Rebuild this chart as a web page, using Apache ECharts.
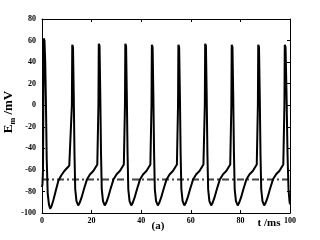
<!DOCTYPE html>
<html><head><meta charset="utf-8">
<script src="https://cdn.jsdelivr.net/npm/echarts@6/dist/echarts.min.js"></script>
<style>html,body{margin:0;padding:0;background:#fff}#c{width:320px;height:240px}</style>
</head><body><div id="c"></div>
<script>
// time (ms) and membrane potential (mV)
const timeMs = [
  0, 0.2, 0.4, 0.55, 0.7, 1.0, 1.3, 1.6, 1.9, 2.3, 2.8, 3.3, 3.8, 4.6, 5.6, 6.6, 7.8, 9.0, 10.2, 11.0, 11.7,
  11.9, 12.05, 12.2, 12.5, 12.8, 13.1, 13.4, 13.9, 14.6, 15.1, 15.9, 16.9, 18.1, 19.4, 20.7, 21.5, 22.3,
  22.6, 22.75, 22.9, 23.2, 23.5, 23.8, 24.1, 24.6, 25.3, 25.8, 26.6, 27.6, 28.8, 30.1, 31.4, 32.2, 33.0,
  33.3, 33.45, 33.6, 33.9, 34.2, 34.5, 34.8, 35.3, 36.0, 36.5, 37.3, 38.3, 39.5, 40.8, 42.1, 42.9, 43.7,
  44.0, 44.15, 44.3, 44.6, 44.9, 45.2, 45.5, 46.0, 46.7, 47.2, 48.0, 49.0, 50.2, 51.5, 52.8, 53.6, 54.4,
  54.7, 54.85, 55.0, 55.3, 55.6, 55.9, 56.2, 56.7, 57.4, 57.9, 58.7, 59.7, 60.9, 62.2, 63.5, 64.3, 65.1,
  65.5, 65.65, 65.8, 66.1, 66.4, 66.7, 67.0, 67.5, 68.2, 68.7, 69.5, 70.5, 71.7, 73.0, 74.3, 75.1, 75.9,
  76.2, 76.35, 76.5, 76.8, 77.1, 77.4, 77.7, 78.2, 78.9, 79.4, 80.2, 81.2, 82.4, 83.7, 85.0, 85.8, 86.6,
  86.9, 87.05, 87.2, 87.5, 87.8, 88.1, 88.4, 88.9, 89.6, 90.1, 90.9, 91.9, 93.1, 94.4, 95.7, 96.5, 97.3,
  97.6, 97.75, 97.9, 98.2, 98.6, 99.0, 99.4, 99.8, 100.0
];
const voltage = [
  -76, -73, -60, 0, 62, 60, 40, 0, -50, -82, -92, -96, -94, -88, -79, -70, -65, -61, -58, -56, -55,
  -55, 0, 56, 54, 10, -45, -78, -89, -93, -91, -86, -78, -69, -64, -61, -58, -55,
  -55, 0, 57, 55, 10, -45, -78, -89, -93, -91, -86, -78, -69, -64, -61, -58, -55,
  -55, 0, 57, 55, 10, -45, -78, -89, -93, -91, -86, -78, -69, -64, -61, -58, -55,
  -55, 0, 56, 54, 10, -45, -78, -89, -93, -91, -86, -78, -69, -64, -61, -58, -55,
  -55, 0, 56, 54, 10, -45, -78, -89, -93, -91, -86, -78, -69, -64, -61, -58, -55,
  -55, 0, 57, 55, 10, -45, -78, -89, -93, -91, -86, -78, -69, -64, -61, -58, -55,
  -55, 0, 56, 54, 10, -45, -78, -89, -93, -91, -86, -78, -69, -64, -61, -58, -55,
  -55, 0, 56, 54, 10, -45, -78, -89, -93, -91, -86, -78, -69, -64, -61, -58, -55,
  -55, 0, 56, 54, 10, -45, -78, -89, -92
];
const thresholdTime = [0, 100];
const thresholdLevel = [-69, -69];
const xTicks = [0, 20, 40, 60, 80, 100];
const yTicks = [-100, -80, -60, -40, -20, 0, 20, 40, 60, 80];

const trace = timeMs.map((t, i) => [t, voltage[i]]);
const threshold = thresholdTime.map((t, i) => [t, thresholdLevel[i]]);

const lblFont = {fontFamily: 'Liberation Serif', fontWeight: 'bold', fontSize: 8, color: '#000'};
const axLine = {show: true, onZero: false, lineStyle: {color: '#000', width: 1}};
const tick = {show: true, inside: true, length: 3, lineStyle: {color: '#000'}};

const chart = echarts.init(document.getElementById('c'), null, {renderer: 'canvas'});
chart.setOption({
  animation: false,
  backgroundColor: '#fff',
  grid: {left: 42, right: 30, top: 19, bottom: 27},
  xAxis: [
    {type: 'value', min: xTicks[0], max: xTicks[xTicks.length - 1], interval: 20,
     axisLine: axLine, axisTick: tick, splitLine: {show: false},
     axisLabel: Object.assign({margin: 4}, lblFont)},
    {type: 'value', position: 'top', min: xTicks[0], max: xTicks[xTicks.length - 1], interval: 20,
     axisLine: axLine, axisTick: tick, splitLine: {show: false}, axisLabel: {show: false}}
  ],
  yAxis: [
    {type: 'value', min: yTicks[0], max: yTicks[yTicks.length - 1], interval: 20,
     axisLine: axLine, axisTick: tick, splitLine: {show: false},
     axisLabel: Object.assign({margin: 6}, lblFont)},
    {type: 'value', position: 'right', min: yTicks[0], max: yTicks[yTicks.length - 1], interval: 20,
     axisLine: axLine, axisTick: tick, splitLine: {show: false}, axisLabel: {show: false}}
  ],
  series: [
    {type: 'line', data: threshold, symbol: 'none', silent: true,
     lineStyle: {color: '#444', width: 2, type: [7, 3, 2, 3]}},
    {type: 'line', data: trace, symbol: 'none', silent: true,
     lineStyle: {color: '#000', width: 2}}
  ],
  graphic: [
    {type: 'text', x: 9, y: 112, rotation: Math.PI / 2, origin: [0, 0],
     style: {text: 'E{s|m} /mV', x: 0, y: 0, align: 'center', verticalAlign: 'middle',
       font: 'bold 13px "Liberation Serif"', fill: '#000',
       rich: {s: {font: 'bold 8px "Liberation Serif"', fill: '#000', verticalAlign: 'bottom', padding: [7, 0, 0, 0]}}}},
    {type: 'text', x: 158, y: 226,
     style: {text: '(a)', align: 'center', verticalAlign: 'middle', font: 'bold 11px "Liberation Serif"', fill: '#000'}},
    {type: 'text', x: 269, y: 223,
     style: {text: 't /ms', align: 'center', verticalAlign: 'middle', font: 'bold 11px "Liberation Serif"', fill: '#000'}}
  ]
});
</script></body></html>
